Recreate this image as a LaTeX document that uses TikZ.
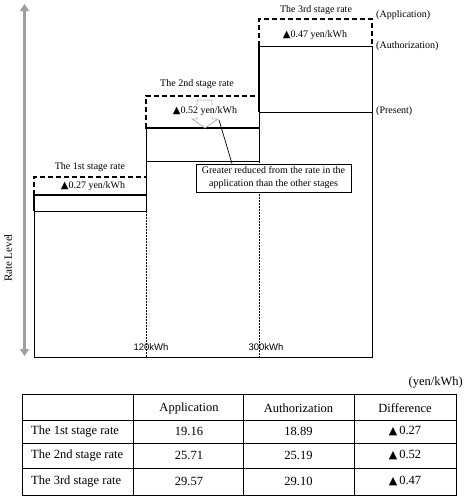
\documentclass[tikz,border=0pt]{standalone}
\usepackage{fontspec}
\setmainfont{Liberation Serif}
\newfontfamily\labsans{Liberation Sans}
\newfontfamily\symfam{DejaVu Sans}
\newcommand\tri{{\symfam ▲}}
\usetikzlibrary{arrows.meta}
\begin{document}
\begin{tikzpicture}[x=1pt,y=-1pt,
  thinln/.style={line width=0.9pt},
  thickln/.style={line width=2.2pt},
  dashln/.style={line width=1.7pt, dash pattern=on 5pt off 3pt},
  dotln/.style={line width=0.9pt, dash pattern=on 1.5pt off 1.5pt},
  lbl/.style={font=\fontsize{10}{13}\selectfont, inner sep=0pt},
  tbl/.style={font=\fontsize{12.5}{14}\selectfont, inner sep=0pt},
  axisarrow/.style={draw=black!38, line width=2.6pt, {Triangle[width=9pt,length=7pt]}-{Triangle[width=9pt,length=7pt]}},
]
\useasboundingbox[fill=white] (0,0) rectangle (469,501);

% vertical axis
\coordinate (axtop) at (24.5,4);
\coordinate (axbot) at (24.5,356);
\draw[axisarrow] (axbot) -- (axtop);
\node[lbl, font=\fontsize{11}{13}\selectfont, rotate=90] (ratelevel) at (8,258) {Rate Level};

% ---- stage 1 ----
\draw[dashln] (34,195) -- (34,177) -- (146,177);
\draw[thickln] (33,195) -- (146,195);
\draw[thickln] (34,195) -- (34,211);
\draw[thinln] (34,211) -- (146,211);
% ---- stage 2 ----
\draw[dashln] (146,128) -- (146,96) -- (257,96);
\draw[thickln] (145,128) -- (259,128);
\draw[thinln] (146,161) -- (259,161);
\draw[thinln] (146,128) -- (146,211);
\draw[dotln] (146,211) -- (146,357);
% ---- stage 3 ----
\draw[dashln] (259,46) -- (259,19) -- (372,19) -- (372,46);
\draw[thinln] (259,46) -- (372,46);
\draw[thickln] (259,45) -- (259,112);
\draw[thinln] (259,112) -- (372,112);
\draw[thinln] (259,112) -- (259,161);
\draw[dotln] (259,161) -- (259,357);
% frame
\draw[thinln] (34,211) -- (34,357) -- (372,357) -- (372,46);

% gray hollow arrow behind 0.52 label
\draw[black!30, line width=0.8pt] (197,100) -- (212,100) -- (212,119) -- (218,119) -- (205,128) -- (192,119) -- (197,119) -- cycle;

% stage labels
\node[lbl] (t1) at (90,167) {The 1st stage rate};
\node[lbl] (d1) at (93,186) {\tri0.27 yen/kWh};
\node[lbl] (t2) at (197,84) {The 2nd stage rate};
\node[lbl, fill=white, inner ysep=1pt] (d2) at (205,111) {\tri0.52 yen/kWh};
\node[lbl] (t3) at (316,10) {The 3rd stage rate};
\node[lbl] (d3) at (315,35) {\tri0.47 yen/kWh};

% right labels
\node[lbl, anchor=west] (app) at (376,15) {(Application)};
\node[lbl, anchor=west] (auth) at (376,46) {(Authorization)};
\node[lbl, anchor=west] (pres) at (376,111) {(Present)};

% kWh labels
\node[inner sep=0pt, font=\labsans\fontsize{9.5}{11}\selectfont] (k120) at (151,347) {120kWh};
\node[inner sep=0pt, font=\labsans\fontsize{9.5}{11}\selectfont] (k300) at (266,347) {300kWh};

% callout
\node[draw, thinln, lbl, fill=white, align=center, minimum width=155pt, minimum height=28pt] (callout) at (273.5,178) {Greater reduced from the rate in the\\application than the other stages};
\coordinate (ptr) at (219,120);
\draw[line width=0.7pt] (ptr) -- ([xshift=-41.5pt]callout.north);

% ---- table ----
\node[tbl, anchor=east] (unit) at (463,383) {(yen/kWh)};
\draw[thinln] (22,394) rectangle (456,495);
\foreach \yy in {420,443,468} \draw[thinln] (22,\yy) -- (456,\yy);
\foreach \xx in {133,243,354} \draw[thinln] (\xx,394) -- (\xx,495);

\node[tbl] (hA) at (189,408) {Application};
\node[tbl] (hB) at (298.5,408) {Authorization};
\node[tbl] (hC) at (405,408) {Difference};

\node[tbl, anchor=west] (r1) at (31,431.5) {The 1st stage rate};
\node[tbl, anchor=west] (r2) at (31,455.5) {The 2nd stage rate};
\node[tbl, anchor=west] (r3) at (31,481.5) {The 3rd stage rate};

\node[tbl] (a1) at (189,431.5) {19.16};
\node[tbl] (a2) at (189,455.5) {25.71};
\node[tbl] (a3) at (189,481.5) {29.57};
\node[tbl] (b1) at (298.5,431.5) {18.89};
\node[tbl] (b2) at (298.5,455.5) {25.19};
\node[tbl] (b3) at (298.5,481.5) {29.10};
\node[tbl] (c1) at (405,431.5) {{\fontsize{11}{14}\selectfont\tri}\,0.27};
\node[tbl] (c2) at (405,455.5) {{\fontsize{11}{14}\selectfont\tri}\,0.52};
\node[tbl] (c3) at (405,481.5) {{\fontsize{11}{14}\selectfont\tri}\,0.47};
\end{tikzpicture}
\end{document}
